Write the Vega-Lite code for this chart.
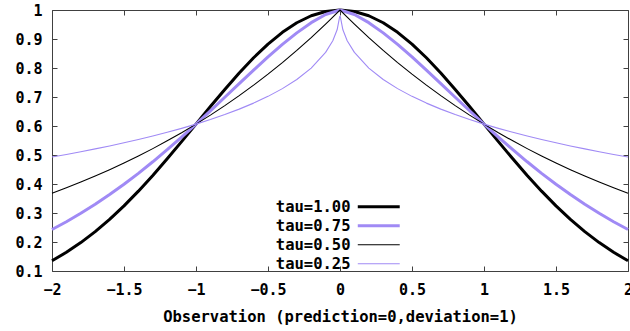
{
  "$schema": "https://vega.github.io/schema/vega-lite/v6.json",
  "width": 576,
  "height": 261,
  "autosize": {"type": "none"},
  "padding": {"left": 52, "top": 10, "right": 2, "bottom": 60},
  "background": "white",
  "config": {
    "view": {"stroke": "#404040", "strokeWidth": 1},
    "font": "DejaVu Sans Mono",
    "axis": {
      "labelFont": "DejaVu Sans Mono", "labelFontSize": 15, "labelFontWeight": "bold", "labelColor": "black",
      "titleFont": "DejaVu Sans Mono", "titleFontSize": 15.5, "titleFontWeight": "bold", "titleColor": "black",
      "grid": false, "domain": false, "tickColor": "#404040", "tickSize": -5, "tickWidth": 1
    },
    "legend": {
      "orient": "none", "legendX": 319, "legendY": 189,
      "symbolType": "M-4,0H4", "symbolSize": 110, "symbolStrokeColor": "black",
      "labelFont": "DejaVu Sans Mono", "labelFontSize": 15.5, "labelFontWeight": "bold", "labelColor": "black",
      "labelAlign": "right", "labelOffset": -36, "rowPadding": 2, "padding": 0
    }
  },
  "data": {"values": [
    {"x":-2,"y":0.1353,"series":"tau=1.00"},{"x":-1.9,"y":0.1645,"series":"tau=1.00"},{"x":-1.8,"y":0.1979,"series":"tau=1.00"},{"x":-1.7,"y":0.2357,"series":"tau=1.00"},{"x":-1.6,"y":0.2780,"series":"tau=1.00"},{"x":-1.5,"y":0.3247,"series":"tau=1.00"},{"x":-1.4,"y":0.3753,"series":"tau=1.00"},{"x":-1.3,"y":0.4296,"series":"tau=1.00"},{"x":-1.2,"y":0.4868,"series":"tau=1.00"},{"x":-1.1,"y":0.5461,"series":"tau=1.00"},{"x":-1,"y":0.6065,"series":"tau=1.00"},{"x":-0.9,"y":0.6670,"series":"tau=1.00"},{"x":-0.8,"y":0.7261,"series":"tau=1.00"},{"x":-0.7,"y":0.7827,"series":"tau=1.00"},{"x":-0.6,"y":0.8353,"series":"tau=1.00"},{"x":-0.5,"y":0.8825,"series":"tau=1.00"},{"x":-0.4,"y":0.9231,"series":"tau=1.00"},{"x":-0.3,"y":0.9560,"series":"tau=1.00"},{"x":-0.2,"y":0.9802,"series":"tau=1.00"},{"x":-0.1,"y":0.9950,"series":"tau=1.00"},{"x":0,"y":1,"series":"tau=1.00"},
    {"x":0.1,"y":0.9950,"series":"tau=1.00"},{"x":0.2,"y":0.9802,"series":"tau=1.00"},{"x":0.3,"y":0.9560,"series":"tau=1.00"},{"x":0.4,"y":0.9231,"series":"tau=1.00"},{"x":0.5,"y":0.8825,"series":"tau=1.00"},{"x":0.6,"y":0.8353,"series":"tau=1.00"},{"x":0.7,"y":0.7827,"series":"tau=1.00"},{"x":0.8,"y":0.7261,"series":"tau=1.00"},{"x":0.9,"y":0.6670,"series":"tau=1.00"},{"x":1,"y":0.6065,"series":"tau=1.00"},{"x":1.1,"y":0.5461,"series":"tau=1.00"},{"x":1.2,"y":0.4868,"series":"tau=1.00"},{"x":1.3,"y":0.4296,"series":"tau=1.00"},{"x":1.4,"y":0.3753,"series":"tau=1.00"},{"x":1.5,"y":0.3247,"series":"tau=1.00"},{"x":1.6,"y":0.2780,"series":"tau=1.00"},{"x":1.7,"y":0.2357,"series":"tau=1.00"},{"x":1.8,"y":0.1979,"series":"tau=1.00"},{"x":1.9,"y":0.1645,"series":"tau=1.00"},{"x":2,"y":0.1353,"series":"tau=1.00"},

    {"x":-2,"y":0.2431,"series":"tau=0.75"},{"x":-1.9,"y":0.2700,"series":"tau=0.75"},{"x":-1.8,"y":0.2990,"series":"tau=0.75"},{"x":-1.7,"y":0.3301,"series":"tau=0.75"},{"x":-1.6,"y":0.3635,"series":"tau=0.75"},{"x":-1.5,"y":0.3991,"series":"tau=0.75"},{"x":-1.4,"y":0.4368,"series":"tau=0.75"},{"x":-1.3,"y":0.4766,"series":"tau=0.75"},{"x":-1.2,"y":0.5183,"series":"tau=0.75"},{"x":-1.1,"y":0.5617,"series":"tau=0.75"},{"x":-1,"y":0.6065,"series":"tau=0.75"},{"x":-0.9,"y":0.6525,"series":"tau=0.75"},{"x":-0.8,"y":0.6992,"series":"tau=0.75"},{"x":-0.7,"y":0.7461,"series":"tau=0.75"},{"x":-0.6,"y":0.7926,"series":"tau=0.75"},{"x":-0.5,"y":0.8380,"series":"tau=0.75"},{"x":-0.4,"y":0.8812,"series":"tau=0.75"},{"x":-0.3,"y":0.9211,"series":"tau=0.75"},{"x":-0.2,"y":0.9563,"series":"tau=0.75"},{"x":-0.1,"y":0.9843,"series":"tau=0.75"},{"x":0,"y":1,"series":"tau=0.75"},
    {"x":0.1,"y":0.9843,"series":"tau=0.75"},{"x":0.2,"y":0.9563,"series":"tau=0.75"},{"x":0.3,"y":0.9211,"series":"tau=0.75"},{"x":0.4,"y":0.8812,"series":"tau=0.75"},{"x":0.5,"y":0.8380,"series":"tau=0.75"},{"x":0.6,"y":0.7926,"series":"tau=0.75"},{"x":0.7,"y":0.7461,"series":"tau=0.75"},{"x":0.8,"y":0.6992,"series":"tau=0.75"},{"x":0.9,"y":0.6525,"series":"tau=0.75"},{"x":1,"y":0.6065,"series":"tau=0.75"},{"x":1.1,"y":0.5617,"series":"tau=0.75"},{"x":1.2,"y":0.5183,"series":"tau=0.75"},{"x":1.3,"y":0.4766,"series":"tau=0.75"},{"x":1.4,"y":0.4368,"series":"tau=0.75"},{"x":1.5,"y":0.3991,"series":"tau=0.75"},{"x":1.6,"y":0.3635,"series":"tau=0.75"},{"x":1.7,"y":0.3301,"series":"tau=0.75"},{"x":1.8,"y":0.2990,"series":"tau=0.75"},{"x":1.9,"y":0.2700,"series":"tau=0.75"},{"x":2,"y":0.2431,"series":"tau=0.75"},

    {"x":-2,"y":0.3679,"series":"tau=0.50"},{"x":-1.9,"y":0.3867,"series":"tau=0.50"},{"x":-1.8,"y":0.4066,"series":"tau=0.50"},{"x":-1.7,"y":0.4274,"series":"tau=0.50"},{"x":-1.6,"y":0.4493,"series":"tau=0.50"},{"x":-1.5,"y":0.4724,"series":"tau=0.50"},{"x":-1.4,"y":0.4966,"series":"tau=0.50"},{"x":-1.3,"y":0.5220,"series":"tau=0.50"},{"x":-1.2,"y":0.5488,"series":"tau=0.50"},{"x":-1.1,"y":0.5769,"series":"tau=0.50"},{"x":-1,"y":0.6065,"series":"tau=0.50"},{"x":-0.9,"y":0.6376,"series":"tau=0.50"},{"x":-0.8,"y":0.6703,"series":"tau=0.50"},{"x":-0.7,"y":0.7047,"series":"tau=0.50"},{"x":-0.6,"y":0.7408,"series":"tau=0.50"},{"x":-0.5,"y":0.7788,"series":"tau=0.50"},{"x":-0.4,"y":0.8187,"series":"tau=0.50"},{"x":-0.3,"y":0.8607,"series":"tau=0.50"},{"x":-0.2,"y":0.9048,"series":"tau=0.50"},{"x":-0.1,"y":0.9512,"series":"tau=0.50"},{"x":-0.05,"y":0.9753,"series":"tau=0.50"},{"x":0,"y":1,"series":"tau=0.50"},
    {"x":0.05,"y":0.9753,"series":"tau=0.50"},{"x":0.1,"y":0.9512,"series":"tau=0.50"},{"x":0.2,"y":0.9048,"series":"tau=0.50"},{"x":0.3,"y":0.8607,"series":"tau=0.50"},{"x":0.4,"y":0.8187,"series":"tau=0.50"},{"x":0.5,"y":0.7788,"series":"tau=0.50"},{"x":0.6,"y":0.7408,"series":"tau=0.50"},{"x":0.7,"y":0.7047,"series":"tau=0.50"},{"x":0.8,"y":0.6703,"series":"tau=0.50"},{"x":0.9,"y":0.6376,"series":"tau=0.50"},{"x":1,"y":0.6065,"series":"tau=0.50"},{"x":1.1,"y":0.5769,"series":"tau=0.50"},{"x":1.2,"y":0.5488,"series":"tau=0.50"},{"x":1.3,"y":0.5220,"series":"tau=0.50"},{"x":1.4,"y":0.4966,"series":"tau=0.50"},{"x":1.5,"y":0.4724,"series":"tau=0.50"},{"x":1.6,"y":0.4493,"series":"tau=0.50"},{"x":1.7,"y":0.4274,"series":"tau=0.50"},{"x":1.8,"y":0.4066,"series":"tau=0.50"},{"x":1.9,"y":0.3867,"series":"tau=0.50"},{"x":2,"y":0.3679,"series":"tau=0.50"},

    {"x":-2,"y":0.4931,"series":"tau=0.25"},{"x":-1.9,"y":0.5020,"series":"tau=0.25"},{"x":-1.8,"y":0.5113,"series":"tau=0.25"},{"x":-1.7,"y":0.5211,"series":"tau=0.25"},{"x":-1.6,"y":0.5313,"series":"tau=0.25"},{"x":-1.5,"y":0.5421,"series":"tau=0.25"},{"x":-1.4,"y":0.5534,"series":"tau=0.25"},{"x":-1.3,"y":0.5655,"series":"tau=0.25"},{"x":-1.2,"y":0.5783,"series":"tau=0.25"},{"x":-1.1,"y":0.5919,"series":"tau=0.25"},{"x":-1,"y":0.6065,"series":"tau=0.25"},{"x":-0.9,"y":0.6223,"series":"tau=0.25"},{"x":-0.8,"y":0.6394,"series":"tau=0.25"},{"x":-0.7,"y":0.6582,"series":"tau=0.25"},{"x":-0.6,"y":0.6789,"series":"tau=0.25"},{"x":-0.5,"y":0.7022,"series":"tau=0.25"},{"x":-0.4,"y":0.7289,"series":"tau=0.25"},{"x":-0.3,"y":0.7604,"series":"tau=0.25"},{"x":-0.2,"y":0.7996,"series":"tau=0.25"},{"x":-0.1,"y":0.8538,"series":"tau=0.25"},{"x":-0.05,"y":0.8942,"series":"tau=0.25"},{"x":-0.02,"y":0.9317,"series":"tau=0.25"},{"x":-0.002,"y":0.9779,"series":"tau=0.25"},
    {"x":0.002,"y":0.9779,"series":"tau=0.25"},{"x":0.02,"y":0.9317,"series":"tau=0.25"},{"x":0.05,"y":0.8942,"series":"tau=0.25"},{"x":0.1,"y":0.8538,"series":"tau=0.25"},{"x":0.2,"y":0.7996,"series":"tau=0.25"},{"x":0.3,"y":0.7604,"series":"tau=0.25"},{"x":0.4,"y":0.7289,"series":"tau=0.25"},{"x":0.5,"y":0.7022,"series":"tau=0.25"},{"x":0.6,"y":0.6789,"series":"tau=0.25"},{"x":0.7,"y":0.6582,"series":"tau=0.25"},{"x":0.8,"y":0.6394,"series":"tau=0.25"},{"x":0.9,"y":0.6223,"series":"tau=0.25"},{"x":1,"y":0.6065,"series":"tau=0.25"},{"x":1.1,"y":0.5919,"series":"tau=0.25"},{"x":1.2,"y":0.5783,"series":"tau=0.25"},{"x":1.3,"y":0.5655,"series":"tau=0.25"},{"x":1.4,"y":0.5534,"series":"tau=0.25"},{"x":1.5,"y":0.5421,"series":"tau=0.25"},{"x":1.6,"y":0.5313,"series":"tau=0.25"},{"x":1.7,"y":0.5211,"series":"tau=0.25"},{"x":1.8,"y":0.5113,"series":"tau=0.25"},{"x":1.9,"y":0.5020,"series":"tau=0.25"},{"x":2,"y":0.4931,"series":"tau=0.25"}
  ]},
  "layer": [
    {
      "mark": {"type": "line", "strokeJoin": "round"},
      "encoding": {
        "x": {"field": "x", "type": "quantitative", "scale": {"domain": [-2, 2], "nice": false, "zero": false},
              "axis": {"orient": "bottom", "values": [-2,-1.5,-1,-0.5,0,0.5,1,1.5,2], "format": "~g", "labelPadding": 16, "labelFlush": false,
                       "title": "Observation (prediction=0,deviation=1)", "titlePadding": 12}},
        "y": {"field": "y", "type": "quantitative", "scale": {"domain": [0.1, 1], "nice": false, "zero": false},
              "axis": {"orient": "left", "values": [0.1,0.2,0.3,0.4,0.5,0.6,0.7,0.8,0.9,1], "format": "~g", "labelPadding": 15, "labelFlush": false, "title": null}},
        "color": {"field": "series", "type": "nominal", "sort": null,
                  "scale": {"domain": ["tau=1.00","tau=0.75","tau=0.50","tau=0.25"], "range": ["#000000","#a08af5","#000000","#a08af5"]},
                  "legend": {"title": null}},
        "strokeWidth": {"field": "series", "type": "nominal", "sort": null,
                  "scale": {"type": "ordinal", "domain": ["tau=1.00","tau=0.75","tau=0.50","tau=0.25"], "range": [3, 3, 1.1, 1.1]},
                  "legend": {"title": null}},
        "order": {"field": "x", "type": "quantitative"}
      }
    },
    {
      "mark": {"type": "line", "opacity": 0},
      "encoding": {
        "x": {"field": "x", "type": "quantitative", "scale": {"domain": [-2, 2], "nice": false, "zero": false},
              "axis": {"orient": "top", "values": [-2,-1.5,-1,-0.5,0,0.5,1,1.5,2], "labels": false, "title": null}},
        "y": {"field": "y", "type": "quantitative", "scale": {"domain": [0.1, 1], "nice": false, "zero": false},
              "axis": {"orient": "right", "values": [0.1,0.2,0.3,0.4,0.5,0.6,0.7,0.8,0.9,1], "labels": false, "title": null}},
        "detail": {"field": "series", "type": "nominal"}
      }
    }
  ],
  "resolve": {"axis": {"x": "independent", "y": "independent"}}
}
